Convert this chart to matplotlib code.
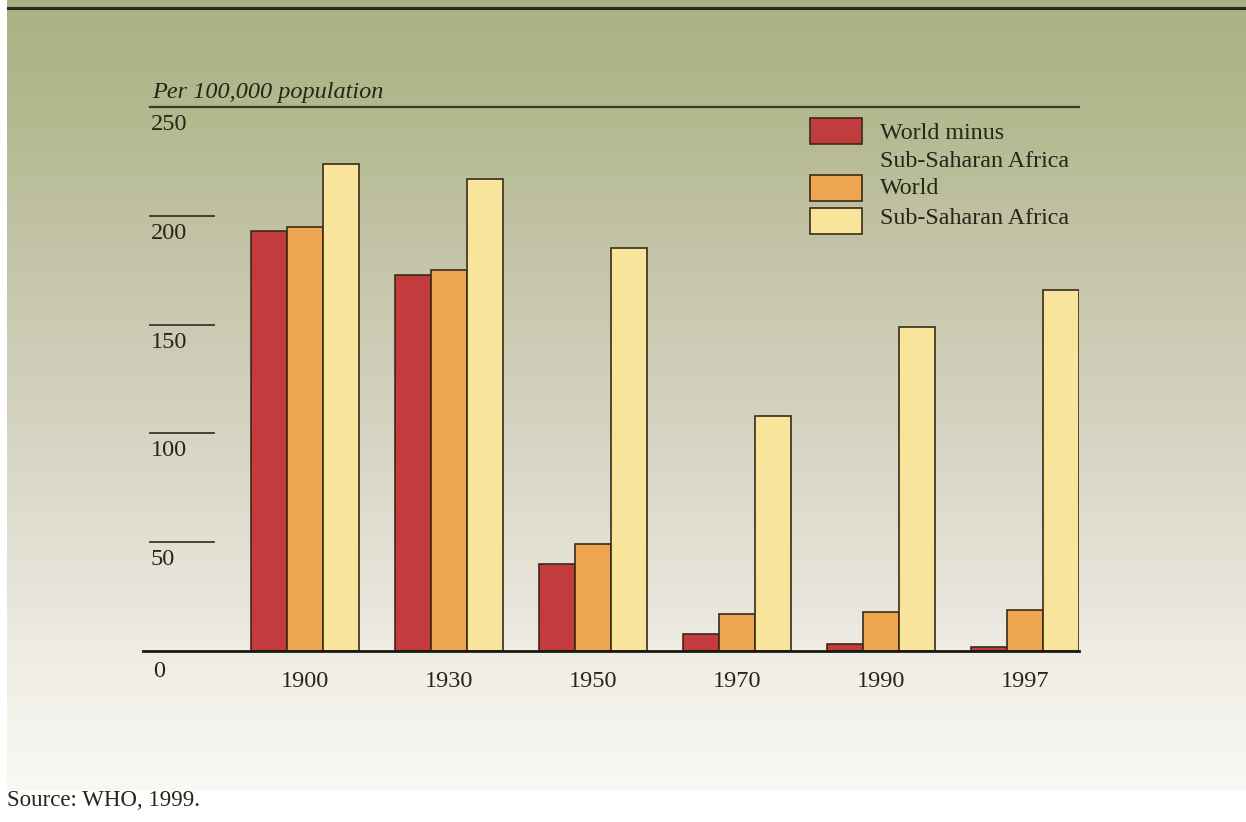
import matplotlib.pyplot as plt
import matplotlib.patches as mpatches
import numpy as np

years = ['1900', '1930', '1950', '1970', '1990', '1997']
world_minus_ssa = [193, 173, 40, 8, 3, 2]
world = [195, 175, 49, 17, 18, 19]
ssa = [224, 217, 185, 108, 149, 166]

series = [('World minus\nSub-Saharan Africa', world_minus_ssa, '#c23b3d'),
          ('World', world, '#eda64f'),
          ('Sub-Saharan Africa', ssa, '#f8e59b')]
edge = '#3a2b18'
yticks = [0, 50, 100, 150, 200, 250]
txt = '#262618'

plt.rcParams['font.family'] = ['Liberation Serif', 'DejaVu Serif']

W, H = 1246, 822
fig = plt.figure(figsize=(W / 100, H / 100), dpi=100)

# background panel, olive at the top fading to near white
bg = fig.add_axes([7 / W, 1 - 790 / H, 1 - 7 / W, 790 / H])
stops_y = [0.0, 0.15, 0.35, 0.6, 0.85, 1.0]
stops_c = np.array([[170, 177, 130], [180, 185, 144], [198, 198, 172],
                    [218, 216, 200], [240, 238, 230], [249, 248, 244]]) / 255
yy = np.linspace(0, 1, 400)
grad = np.stack([np.interp(yy, stops_y, stops_c[:, k]) for k in range(3)], axis=1)
bg.imshow(grad[:, None, :], aspect='auto', extent=[0, 1, 1, 0])
bg.set_xlim(0, 1)
bg.set_ylim(1, 0)
bg.axis('off')
bg.plot([0, 1], [8 / 790, 8 / 790], color='#2a2a1a', lw=2.2)

# plot area (pixel box)
X0, X1, Y0, Y1 = 143, 1079, 651, 107
ax = fig.add_axes([X0 / W, 1 - Y0 / H, (X1 - X0) / W, (Y0 - Y1) / H])
ax.patch.set_alpha(0)


def ax_x(px):
    return (px - X0) / (X1 - X0)


def ax_y(py):
    return 250 * (Y0 - py) / (Y0 - Y1)


def px_len(p):
    return 250 * p / (Y0 - Y1)


x = np.arange(len(years))
w = 0.25
for i, (lab, vals, col) in enumerate(series):
    ax.bar(x + (i - 1) * w, vals, width=w, color=col, edgecolor=edge, linewidth=1.2, zorder=3)

ax.set_xlim(-1.125, 5.375)
ax.set_ylim(0, 250)
for s in ax.spines.values():
    s.set_visible(False)
ax.set_xticks([])
ax.set_yticks([])

tr = ax.get_yaxis_transform()
ax.plot([0, 1], [0, 0], transform=tr, color='#1a1a10', lw=2, zorder=4, clip_on=False)
ax.plot([ax_x(150), 1], [250, 250], transform=tr, color='#3a3a28', lw=1.6, clip_on=False)
for t in yticks[1:-1]:
    ax.plot([ax_x(150), ax_x(214)], [t, t], transform=tr, color='#3a3a28', lw=1.3, clip_on=False)
for t in yticks:
    if t:
        ax.text(ax_x(151), t - px_len(23), str(t), transform=tr, ha='left',
                va='baseline', fontsize=17.5, color=txt)
    else:
        ax.text(ax_x(153), t - px_len(26), str(t), transform=tr, ha='left',
                va='baseline', fontsize=17.5, color=txt)

for xi, yr in zip(x, years):
    ax.text(xi, ax_y(687), yr, ha='center', va='baseline', fontsize=17.5, color=txt)

ax.text(ax_x(152), ax_y(98), 'Per 100,000 population', transform=tr, ha='left',
        va='baseline', fontsize=17.5, style='italic', color=txt)

# legend drawn by hand to match the two-line first entry
leg_boxes = [118, 175, 208]
leg_baselines = [[139, 167], [194], [224]]
for top, bases, (lab, vals, col) in zip(leg_boxes, leg_baselines, series):
    ax.add_patch(mpatches.Rectangle((ax_x(810), ax_y(top + 26)), ax_x(862) - ax_x(810),
                                    px_len(26), transform=tr, facecolor=col,
                                    edgecolor=edge, lw=1.2, clip_on=False))
    for line, b in zip(lab.split('\n'), bases):
        ax.text(ax_x(880), ax_y(b), line, transform=tr, ha='left', va='baseline',
                fontsize=17.3, color=txt)

fig.text(7 / W, 1 - 806 / H, 'Source: WHO, 1999.', ha='left', va='baseline',
         fontsize=16.5, color=txt)

fig.savefig('out.png', dpi=100)
